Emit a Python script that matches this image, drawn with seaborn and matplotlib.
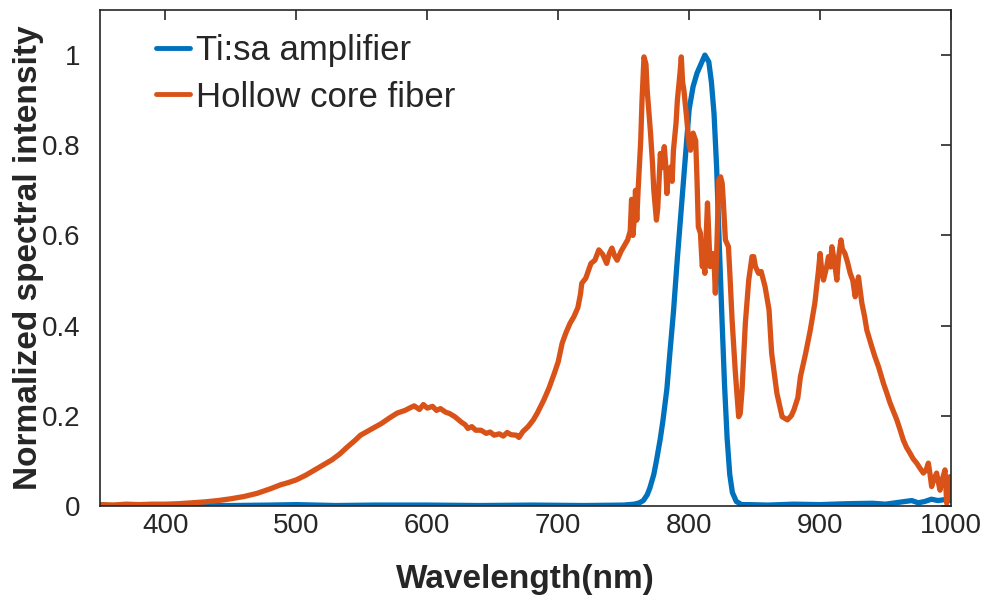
import numpy as np
import pandas as pd
import seaborn as sns
import matplotlib.pyplot as plt

# Ti:sa amplifier spectrum
tisa_nm = [350, 360, 380, 400, 420, 450, 480, 500, 530, 560, 600, 640, 680, 720, 750, 758,
           762, 765, 768, 770, 773, 775, 778, 780, 783, 785, 788, 791, 794, 797, 800, 803, 806,
           809, 812, 815, 817, 819, 821, 823, 825, 827, 829, 831, 833, 836, 840,
           845, 860, 880, 900, 920, 940, 950, 960, 970, 975, 980, 985, 990, 995, 1000]
tisa_val = [0.002, 0.001, 0.003, 0.001, 0.002, 0.001, 0.002, 0.003, 0.001, 0.002, 0.002, 0.001,
            0.002, 0.001, 0.002, 0.004,
            0.007, 0.012, 0.025, 0.040, 0.070, 0.100, 0.150, 0.190, 0.260, 0.330, 0.430, 0.550,
            0.660, 0.770, 0.880, 0.930, 0.960, 0.980, 1.000, 0.985, 0.940, 0.870, 0.750, 0.580,
            0.420, 0.270, 0.150, 0.070, 0.030, 0.010, 0.003,
            0.003, 0.002, 0.004, 0.003, 0.005, 0.006, 0.004, 0.008, 0.012, 0.007, 0.010, 0.015,
            0.012, 0.014, 0.012]

# Hollow core fiber output spectrum
hcf_nm = [350, 360, 370, 380, 390, 400, 410, 420, 430, 440, 450, 460, 470, 480, 488, 494,
          500, 507, 514, 520, 527, 533, 539, 545, 549, 557, 565, 571, 577, 583, 587, 590,
          594, 597, 600, 604, 607, 610, 614, 617, 621, 626, 629, 631, 634, 637, 641, 645,
          648, 651, 655, 658, 661, 664, 668, 670, 673, 677, 681, 684, 689, 693, 697, 700,
          703, 706, 709, 712, 715, 717, 718, 721, 725, 728, 731, 734, 737, 739, 741, 743,
          745, 748, 751, 753, 755, 756, 757, 758, 759, 760, 761, 763, 764, 765.5, 767, 768,
          770.5, 772, 773, 775, 776, 778, 779, 781, 782, 783, 784, 786, 787, 788, 790, 791,
          793, 794, 795, 796, 798, 800, 801, 803, 805, 806, 807, 808.6, 810, 811, 812, 813,
          814, 815, 816, 817, 818, 819, 820, 821, 822.6, 824, 825.2, 826, 827.7, 830, 831, 832.8,
          835.3, 837.8, 839, 840.4, 842.9, 845.5, 848, 849.3, 850.6, 853, 855, 858, 861, 863,
          867, 871, 875, 878, 880, 883, 885, 889, 892.5, 896, 898.8, 900, 901, 902.6, 905, 906.4,
          908, 909, 911, 912.8, 914, 916, 917, 919, 921, 923, 925, 926.8, 929.3, 931.9, 934, 935.7,
          939.5, 942, 944.6, 948.4, 951, 953.5, 956, 958.6, 961, 963.6, 966, 968.7, 971, 973.8, 976, 978.9,
          981, 982.7, 984, 985.2, 987, 989, 990.5, 991.6, 993, 995.4, 996.7, 998, 999.2, 1000]
hcf_val = [0.003, 0.002, 0.004, 0.003, 0.004, 0.004, 0.005, 0.007, 0.009, 0.012, 0.016, 0.021,
           0.028, 0.038, 0.047, 0.052, 0.058, 0.068, 0.080, 0.090, 0.102, 0.115, 0.131, 0.146,
           0.157, 0.170, 0.183, 0.195, 0.206, 0.212, 0.218, 0.222, 0.214, 0.225, 0.217, 0.221,
           0.212, 0.216, 0.208, 0.205, 0.198, 0.186, 0.180, 0.172, 0.176, 0.168, 0.168, 0.161,
           0.164, 0.157, 0.160, 0.155, 0.163, 0.158, 0.157, 0.152, 0.165, 0.176, 0.191, 0.206,
           0.235, 0.262, 0.294, 0.320, 0.361, 0.385, 0.405, 0.420, 0.440, 0.470, 0.494, 0.505,
           0.538, 0.545, 0.568, 0.558, 0.538, 0.560, 0.572, 0.555, 0.545, 0.565, 0.580, 0.590,
           0.610, 0.680, 0.600, 0.634, 0.700, 0.634, 0.700, 0.810, 0.900, 0.996, 0.980, 0.920,
           0.827, 0.760, 0.700, 0.634, 0.660, 0.782, 0.750, 0.797, 0.760, 0.693, 0.740, 0.752,
           0.720, 0.789, 0.850, 0.900, 0.960, 0.996, 0.940, 0.922, 0.863, 0.800, 0.789, 0.827,
           0.810, 0.723, 0.619, 0.605, 0.531, 0.545, 0.516, 0.600, 0.672, 0.600, 0.531, 0.545,
           0.560, 0.545, 0.472, 0.560, 0.723, 0.730, 0.716, 0.680, 0.590, 0.575, 0.520, 0.412,
           0.295, 0.198, 0.205, 0.257, 0.405, 0.501, 0.553, 0.553, 0.531, 0.516, 0.520, 0.486,
           0.435, 0.339, 0.250, 0.198, 0.191, 0.200, 0.213, 0.240, 0.287, 0.339, 0.390, 0.450,
           0.523, 0.560, 0.530, 0.501, 0.530, 0.553, 0.530, 0.575, 0.540, 0.501, 0.550, 0.590,
           0.570, 0.560, 0.540, 0.516, 0.500, 0.464, 0.508, 0.450, 0.420, 0.390, 0.353, 0.330,
           0.309, 0.272, 0.250, 0.228, 0.210, 0.191, 0.170, 0.146, 0.130, 0.117, 0.105, 0.095,
           0.085, 0.073, 0.080, 0.095, 0.070, 0.043, 0.060, 0.073, 0.050, 0.035, 0.055, 0.080,
           0.006, 0.040, 0.065, 0.020]

x_ticks = [400, 500, 600, 700, 800, 900, 1000]
y_ticks = [0, 0.2, 0.4, 0.6, 0.8, 1]
y_tick_labels = ["0", "0.2", "0.4", "0.6", "0.8", "1"]

tisa = pd.DataFrame({"Wavelength": tisa_nm, "Intensity": tisa_val})
hcf = pd.DataFrame({"Wavelength": hcf_nm, "Intensity": hcf_val})

sns.set_theme(style="white")
plt.rcParams["font.family"] = ["Liberation Sans", "DejaVu Sans"]

fig = plt.figure(figsize=(9.85, 5.99), dpi=100)
ax = fig.add_axes([0.1015, 0.1553, 0.864, 0.828])

sns.lineplot(data=tisa, x="Wavelength", y="Intensity", color="#0072BD", lw=3.8,
             estimator=None, sort=False, label="Ti:sa amplifier", ax=ax)
sns.lineplot(data=hcf, x="Wavelength", y="Intensity", color="#D95319", lw=3.8,
             estimator=None, sort=False, label="Hollow core fiber", ax=ax)

ax.set_xlim(350, 1000)
ax.set_ylim(0, 1.1)
ax.set_xticks(x_ticks)
ax.set_yticks(y_ticks)
ax.set_yticklabels(y_tick_labels)
ax.tick_params(direction="in", top=True, right=True, length=7, width=1.2,
               labelsize=20, colors="#262626", pad=5)
ax.tick_params(axis="y", pad=14)
for s in ax.spines.values():
    s.set_color("#262626")
    s.set_linewidth(1.2)

ax.set_xlabel("Wavelength(nm)", fontsize=24, fontweight="bold", color="#262626", labelpad=18)
ax.set_ylabel("Normalized spectral intensity", fontsize=24, fontweight="bold", color="#262626")
ax.yaxis.set_label_coords(-0.066, 0.5)

leg = ax.legend(loc="upper left", bbox_to_anchor=(0.037, 1.0), frameon=False, fontsize=25,
                handlelength=1.0, handletextpad=0.15, labelspacing=0.38, borderaxespad=0.3)
for line in leg.get_lines():
    line.set_linewidth(3.5)

fig.savefig("out.png", dpi=100)
